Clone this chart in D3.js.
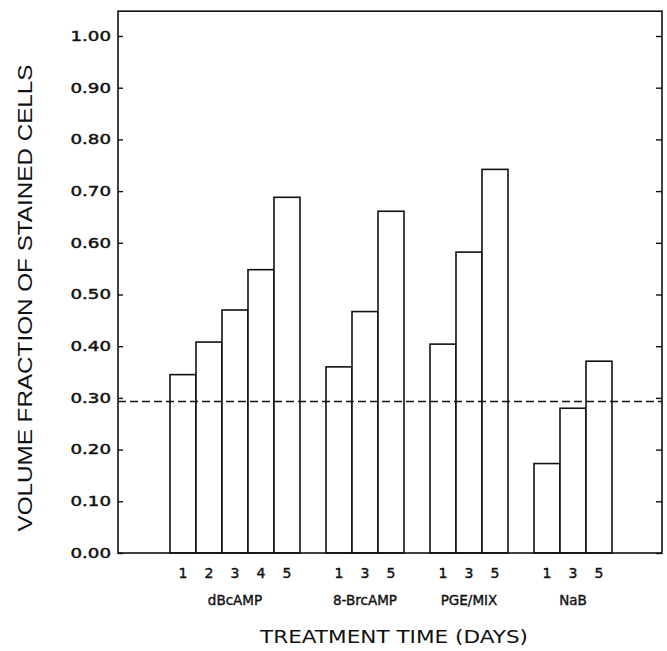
<!DOCTYPE html>
<html>
<head>
<meta charset="utf-8">
<script src="https://cdn.jsdelivr.net/npm/d3@7"></script>
<style>
  html, body { margin: 0; padding: 0; background: #fff; }
  svg { display: block; }
</style>
</head>
<body>
<svg id="chart" width="667" height="651"></svg>
<script>
// ---- data ----
const groups = ["dBcAMP", "8-BrcAMP", "PGE/MIX", "NaB"];
const dBcAMPDays = ["1", "2", "3", "4", "5"];
const dBcAMPValues = [0.345, 0.408, 0.470, 0.548, 0.688];
const brcAMPDays = ["1", "3", "5"];
const brcAMPValues = [0.360, 0.467, 0.661];
const pgeDays = ["1", "3", "5"];
const pgeValues = [0.404, 0.582, 0.742];
const nabDays = ["1", "3", "5"];
const nabValues = [0.173, 0.280, 0.371];
const controlLevel = 0.293;
const yTicks = [0.00, 0.10, 0.20, 0.30, 0.40, 0.50, 0.60, 0.70, 0.80, 0.90, 1.00];
const yTitle = "VOLUME FRACTION OF STAINED CELLS";
const xTitle = "TREATMENT TIME (DAYS)";

// ---- build bar table ----
const seriesDays = [dBcAMPDays, brcAMPDays, pgeDays, nabDays];
const seriesVals = [dBcAMPValues, brcAMPValues, pgeValues, nabValues];
const leadSlots = 2, gapSlots = 1, trailSlots = 2;
const bars = [];
const groupSlots = [];
let slot = leadSlots;
groups.forEach((g, gi) => {
  const start = slot;
  seriesVals[gi].forEach((v, i) => {
    bars.push({ group: g, day: seriesDays[gi][i], value: v, slot: slot });
    slot++;
  });
  groupSlots.push({ group: g, start: start, end: slot - 1 });
  slot += gapSlots;
});
const totalSlots = slot - gapSlots + trailSlots;

// ---- layout ----
const svg = d3.select("#chart");
const plotLeft = 118, plotRight = 662, plotBottom = 553;
const yMax = 1.048;
const y = d3.scaleLinear().domain([0, 1]).range([plotBottom, 36]);
const x = d3.scaleBand().domain(d3.range(totalSlots)).range([plotLeft, 664]).padding(0);
const plotTop = y(yMax);

const ink = "#111";

// bars
svg.append("g").selectAll("rect").data(bars).join("rect")
  .attr("x", d => x(d.slot))
  .attr("y", d => y(d.value))
  .attr("width", x.bandwidth())
  .attr("height", d => y(0) - y(d.value))
  .attr("fill", "#fff")
  .attr("stroke", ink)
  .attr("stroke-width", 1.6);

// dashed control line
svg.append("line")
  .attr("x1", plotLeft).attr("x2", plotRight)
  .attr("y1", y(controlLevel)).attr("y2", y(controlLevel))
  .attr("stroke", ink).attr("stroke-width", 1.5)
  .attr("stroke-dasharray", "8,4");

// frame
svg.append("rect")
  .attr("x", plotLeft).attr("y", plotTop)
  .attr("width", plotRight - plotLeft).attr("height", plotBottom - plotTop)
  .attr("fill", "none").attr("stroke", ink).attr("stroke-width", 1.6);

// left axis (ticks inward)
const leftAxis = d3.axisRight(y).tickValues(yTicks).tickSize(5).tickFormat("");
const gl = svg.append("g").attr("transform", `translate(${plotLeft},0)`).call(leftAxis);
gl.select(".domain").remove();
gl.selectAll(".tick line").attr("stroke", ink).attr("stroke-width", 1.4);

// right axis (ticks inward)
const rightAxis = d3.axisLeft(y).tickValues(yTicks).tickSize(6).tickFormat("");
const gr = svg.append("g").attr("transform", `translate(${plotRight},0)`).call(rightAxis);
gr.select(".domain").remove();
gr.selectAll(".tick line").attr("stroke", ink).attr("stroke-width", 1.4);

// y tick labels
const yl = svg.append("g").selectAll("text").data(yTicks).join("text")
  .attr("x", 111)
  .attr("y", d => y(d))
  .attr("dy", "0.36em")
  .attr("text-anchor", "end")
  .attr("font-family", "DejaVu Sans")
  .attr("font-size", 13.5)
  .attr("fill", ink)
  .attr("stroke", ink)
  .attr("stroke-width", 0.45)
  .text(d => d3.format(".2f")(d));
yl.each(function() {
  const L = this.getComputedTextLength();
  d3.select(this).attr("textLength", L * 1.35).attr("lengthAdjust", "spacingAndGlyphs");
});

// x day labels
svg.append("g").selectAll("text").data(bars).join("text")
  .attr("x", d => x(d.slot) + x.bandwidth() / 2)
  .attr("y", 578)
  .attr("text-anchor", "middle")
  .attr("font-family", "DejaVu Sans")
  .attr("font-size", 14)
  .attr("fill", ink)
  .attr("stroke", ink)
  .attr("stroke-width", 0.4)
  .text(d => d.day);

// group labels
svg.append("g").selectAll("text").data(groupSlots).join("text")
  .attr("x", d => (x(d.start) + x(d.end) + x.bandwidth()) / 2)
  .attr("y", 605)
  .attr("text-anchor", "middle")
  .attr("font-family", "DejaVu Sans")
  .attr("font-size", 13.5)
  .attr("fill", ink)
  .attr("stroke", ink)
  .attr("stroke-width", 0.4)
  .text(d => d.group);

// x title
svg.append("text")
  .attr("x", 394).attr("y", 643)
  .attr("text-anchor", "middle")
  .attr("font-family", "DejaVu Sans")
  .attr("font-size", 17)
  .attr("textLength", 268)
  .attr("lengthAdjust", "spacingAndGlyphs")
  .attr("fill", ink)
  .text(xTitle);

// y title
svg.append("text")
  .attr("transform", "translate(32,298) rotate(-90)")
  .attr("text-anchor", "middle")
  .attr("font-family", "Liberation Sans")
  .attr("font-size", 20)
  .attr("textLength", 467)
  .attr("lengthAdjust", "spacingAndGlyphs")
  .attr("fill", ink)
  .text(yTitle);
</script>
</body>
</html>
